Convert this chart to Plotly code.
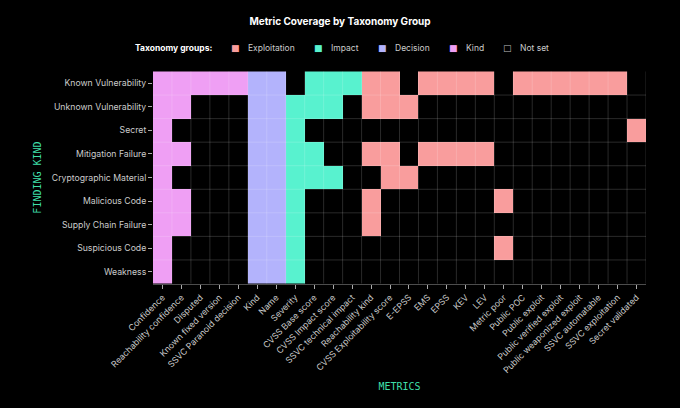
import plotly.graph_objects as go

metrics = [
    "Confidence", "Reachability confidence", "Disputed", "Known fixed version",
    "SSVC Paranoid decision", "Kind", "Name", "Severity", "CVSS Base score",
    "CVSS Impact score", "SSVC technical impact", "Reachability kind",
    "CVSS Exploitability score", "E-EPSS", "EMS", "EPSS", "KEV", "LEV",
    "Metric poor", "Public POC", "Public exploit", "Public verified exploit",
    "Public weaponized exploit", "SSVC automatable", "SSVC exploitation",
    "Secret validated",
]

# taxonomy group of each metric (same order as metrics)
metric_groups = [
    "Kind", "Kind", "Kind", "Kind", "Kind",
    "Decision", "Decision",
    "Impact", "Impact", "Impact", "Impact",
    "Exploitation", "Exploitation", "Exploitation", "Exploitation", "Exploitation",
    "Exploitation", "Exploitation", "Exploitation", "Exploitation", "Exploitation",
    "Exploitation", "Exploitation", "Exploitation", "Exploitation", "Exploitation",
]

finding_kinds = [
    "Known Vulnerability", "Unknown Vulnerability", "Secret", "Mitigation Failure",
    "Cryptographic Material", "Malicious Code", "Supply Chain Failure",
    "Suspicious Code", "Weakness",
]

# 1 = metric is set for this finding kind
coverage = [
    [1, 1, 1, 1, 1, 1, 1, 0, 1, 1, 1, 1, 1, 0, 1, 1, 1, 1, 0, 1, 1, 1, 1, 1, 1, 0],
    [1, 1, 0, 0, 0, 1, 1, 1, 1, 1, 0, 1, 1, 1, 0, 0, 0, 0, 0, 0, 0, 0, 0, 0, 0, 0],
    [1, 0, 0, 0, 0, 1, 1, 1, 0, 0, 0, 0, 0, 0, 0, 0, 0, 0, 0, 0, 0, 0, 0, 0, 0, 1],
    [1, 1, 0, 0, 0, 1, 1, 1, 1, 0, 0, 1, 1, 0, 1, 1, 1, 1, 0, 0, 0, 0, 0, 0, 0, 0],
    [1, 0, 0, 0, 0, 1, 1, 1, 1, 1, 0, 0, 1, 1, 0, 0, 0, 0, 0, 0, 0, 0, 0, 0, 0, 0],
    [1, 1, 0, 0, 0, 1, 1, 1, 0, 0, 0, 1, 0, 0, 0, 0, 0, 0, 1, 0, 0, 0, 0, 0, 0, 0],
    [1, 1, 0, 0, 0, 1, 1, 1, 0, 0, 0, 1, 0, 0, 0, 0, 0, 0, 0, 0, 0, 0, 0, 0, 0, 0],
    [1, 0, 0, 0, 0, 1, 1, 1, 0, 0, 0, 0, 0, 0, 0, 0, 0, 0, 1, 0, 0, 0, 0, 0, 0, 0],
    [1, 0, 0, 0, 0, 1, 1, 1, 0, 0, 0, 0, 0, 0, 0, 0, 0, 0, 0, 0, 0, 0, 0, 0, 0, 0],
]

legend_items = ["Exploitation", "Impact", "Decision", "Kind", "Not set"]
colores = {
    "Not set": "#000000",
    "Exploitation": "#f99d9d",
    "Impact": "#58f2cf",
    "Decision": "#b3b3fc",
    "Kind": "#ef9ff4",
}
codigo = {"Exploitation": 1, "Impact": 2, "Decision": 3, "Kind": 4}

z = [[codigo[metric_groups[j]] if fila[j] else 0 for j in range(len(metrics))]
     for fila in coverage]

orden = ["Not set", "Exploitation", "Impact", "Decision", "Kind"]
escala = []
for i, g in enumerate(orden):
    escala.append([i / len(orden), colores[g]])
    escala.append([(i + 1) / len(orden), colores[g]])

fig = go.Figure()

fig.add_trace(go.Heatmap(
    z=z, x=metrics, y=finding_kinds,
    colorscale=escala, zmin=-0.5, zmax=4.5,
    showscale=False, hoverongaps=False,
))

# rejilla por encima de las celdas
grid = "rgba(255,255,255,0.16)"
for i in range(1, len(metrics) + 1):
    fig.add_shape(type="line", x0=i - 0.5, x1=i - 0.5, y0=-0.5, y1=len(finding_kinds) - 0.5,
                  line=dict(color=grid, width=1), layer="above")
for j in range(1, len(finding_kinds)):
    fig.add_shape(type="line", x0=-0.5, x1=len(metrics) - 0.5, y0=j - 0.5, y1=j - 0.5,
                  line=dict(color=grid, width=1), layer="above")

# leyenda a mano (cuadro + texto), en px del lienzo
W, H = 680, 408
ML, MR, MT, MB = 153, 34, 71, 124
pw, ph = W - ML - MR, H - MT - MB
px = lambda x: (x - ML) / pw
py = lambda y: (H - MB - y) / ph

ley_y = py(48)
fig.add_annotation(text="<b>Taxonomy groups:</b>", xref="paper", yref="paper",
                   x=px(133), y=ley_y, xanchor="left", yanchor="middle",
                   showarrow=False, font=dict(size=8.5, color="#ffffff"))
sq_x = [235, 318, 382, 453, 507]
for g, sx in zip(legend_items, sq_x):
    fig.add_annotation(text="□" if g == "Not set" else "■",
                       xref="paper", yref="paper",
                       x=px(sx), y=ley_y, xanchor="center", yanchor="middle",
                       showarrow=False,
                       font=dict(family="DejaVu Sans", size=9,
                                 color="#bbbbbb" if g == "Not set" else colores[g]))
    fig.add_annotation(text=g, xref="paper", yref="paper",
                       x=px(sx + 11), y=ley_y, xanchor="left", yanchor="middle",
                       showarrow=False, font=dict(size=8.5, color="#cccccc"))

fig.update_layout(
    width=W, height=H,
    paper_bgcolor="#000000", plot_bgcolor="#000000",
    margin=dict(l=ML, r=MR, t=MT, b=MB),
    font=dict(family="Inter", size=9, color="#cccccc"),
    title=dict(text="<b>Metric Coverage by Taxonomy Group</b>", x=0.5, xanchor="center",
               y=1 - 21 / H, yanchor="middle", font=dict(size=10, color="#ffffff")),
    showlegend=False,
    xaxis=dict(
        tickangle=-45, showgrid=False, zeroline=False, automargin=False,
        ticks="outside", ticklen=4, tickcolor="#aaaaaa",
        showline=True, linecolor="rgba(255,255,255,0.3)", linewidth=1,
        title=dict(text="METRICS", standoff=8,
                   font=dict(family="DejaVu Sans Mono", size=10, color="#3fdfa8")),
        tickfont=dict(size=8.7, color="#cccccc"),
        range=[-0.5, len(metrics) - 0.5],
    ),
    yaxis=dict(
        autorange="reversed", showgrid=False, zeroline=False, automargin=False,
        ticks="outside", ticklen=4, tickcolor="#aaaaaa",
        title=dict(text="FINDING KIND", standoff=8,
                   font=dict(family="DejaVu Sans Mono", size=10, color="#3fdfa8")),
        tickfont=dict(size=8.7, color="#cccccc"),
    ),
)

fig.write_html("out.html", config={"displayModeBar": False},
               post_script="document.body.style.margin='0';")
